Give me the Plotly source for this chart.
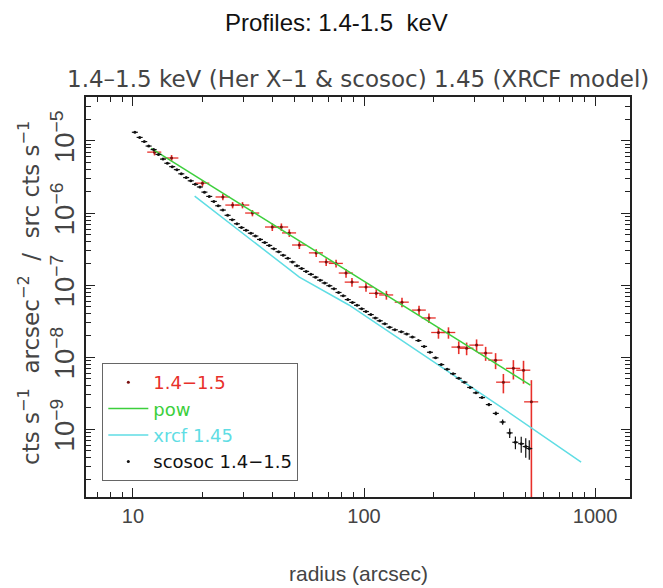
import plotly.graph_objects as go

# ---------------- data ----------------
# red data: 1.4-1.5 keV profile (radius arcsec, value)
red_r = [12.4, 14.7, 20.0, 24.5, 27.0, 29.8, 32.9, 40.1, 43.9, 47.5, 52.5, 62.1,
         68.6, 75.7, 83.6, 88.7, 102, 113, 125, 146, 173, 191, 210, 232, 257,
         278, 307, 336, 371, 401, 443, 490, 530]
red_v = [7.0e-6, 5.8e-6, 2.6e-6, 1.67e-6, 1.29e-6, 1.29e-6, 1.0e-6, 6.4e-7, 6.4e-7,
         5.3e-7, 3.6e-7, 2.8e-7, 2.1e-7, 2.0e-7, 1.47e-7, 1.1e-7, 9.4e-8, 7.7e-8,
         7.3e-8, 5.8e-8, 4.5e-8, 3.5e-8, 2.2e-8, 2.2e-8, 1.38e-8, 1.33e-8, 1.47e-8,
         1.14e-8, 9.1e-9, 4.5e-9, 7.0e-9, 6.6e-9, 2.4e-9]
# fractional y errors (upper / lower)
red_err_hi = [0.10, 0.10, 0.10, 0.10, 0.10, 0.10, 0.10, 0.12, 0.12, 0.12, 0.12, 0.12,
              0.12, 0.12, 0.14, 0.14, 0.14, 0.14, 0.14, 0.15, 0.15, 0.15, 0.18, 0.18,
              0.20, 0.20, 0.20, 0.22, 0.25, 0.30, 0.30, 0.35, 1.00]
red_err_lo = [0.10, 0.10, 0.10, 0.10, 0.10, 0.10, 0.10, 0.12, 0.12, 0.12, 0.12, 0.12,
              0.12, 0.12, 0.14, 0.14, 0.14, 0.14, 0.14, 0.15, 0.15, 0.15, 0.18, 0.18,
              0.20, 0.20, 0.20, 0.22, 0.25, 0.30, 0.30, 0.35, 0.999]

# green power-law model (straight line in log-log)
pow_r = [12.0, 525]
pow_v = [7.9e-6, 4.1e-9]

# cyan XRCF model 1.45 keV
xrcf_r = [18.5, 31.9, 52.5, 86, 141, 232, 382, 870]
xrcf_v = [1.72e-6, 4.4e-7, 1.29e-7, 5.3e-8, 1.84e-8, 6.2e-9, 2.15e-9, 3.5e-10]

# black scosoc 1.4-1.5 profile
sc_r = [10.2, 10.7, 11.2, 11.7, 12.3, 12.9, 13.5, 14.1, 14.8, 15.5, 16.2, 17.0,
        17.8, 18.6, 19.5, 20.4, 21.4, 22.4, 23.4, 24.5, 25.7, 26.9, 28.2, 29.5,
        30.9, 32.4, 33.9, 35.5, 37.2, 38.9, 40.7, 42.7, 44.7, 46.8, 49.0, 51.3,
        53.7, 56.2, 58.9, 61.7, 64.6, 67.6, 70.8, 74.1, 77.6, 81.3, 85.1, 89.1,
        93.3, 97.7, 102, 107, 112, 117, 123, 129, 136, 145, 153, 162, 172, 182,
        193, 204, 216, 229, 243, 257, 272, 288, 305, 324, 347, 372, 398, 427,
        452, 479, 501, 519]
sc_v = [1.32e-5, 1.12e-5, 9.8e-6, 8.5e-6, 7.6e-6, 6.5e-6, 5.6e-6, 4.9e-6, 4.4e-6,
        4.0e-6, 3.5e-6, 3.1e-6, 2.8e-6, 2.5e-6, 2.3e-6, 1.95e-6, 1.7e-6, 1.45e-6,
        1.26e-6, 1.10e-6, 9.3e-7, 8.1e-7, 7.1e-7, 6.3e-7, 5.75e-7, 5.25e-7, 4.8e-7,
        4.3e-7, 3.9e-7, 3.55e-7, 3.2e-7, 2.9e-7, 2.6e-7, 2.35e-7, 2.1e-7, 1.85e-7,
        1.7e-7, 1.55e-7, 1.41e-7, 1.29e-7, 1.17e-7, 1.07e-7, 9.8e-8, 8.9e-8, 7.9e-8,
        7.1e-8, 6.3e-8, 5.75e-8, 5.25e-8, 4.7e-8, 4.3e-8, 3.9e-8, 3.5e-8, 3.2e-8,
        2.9e-8, 2.6e-8, 2.4e-8, 2.25e-8, 2.1e-8, 1.9e-8, 1.7e-8, 1.41e-8, 1.17e-8,
        9.8e-9, 7.9e-9, 6.8e-9, 5.9e-9, 5.1e-9, 4.5e-9, 3.8e-9, 3.2e-9, 2.75e-9,
        2.2e-9, 1.66e-9, 1.26e-9, 8.9e-10, 6.6e-10, 6.3e-10, 5.75e-10, 5.4e-10]
sc_err = [0.02] * 72 + [0.05, 0.06, 0.08, 0.15, 0.2, 0.25, 0.3, 0.3]

# labels
title_text = "Profiles: 1.4-1.5  keV"
subtitle_text = "1.4–1.5 keV (Her X–1 & scosoc) 1.45 (XRCF model)"
x_title = "radius (arcsec)"
y_title = "cts s<sup>−1</sup>  arcsec<sup>−2</sup>  /  src cts s<sup>−1</sup>"
name_red = "1.4−1.5"
name_pow = "pow"
name_xrcf = "xrcf 1.45"
name_sc = "scosoc 1.4−1.5"

RED = "#e8302a"
GREEN = "#3ccf3c"
CYAN = "#5fdde4"
BLACK = "#111111"
FONT = "Liberation Sans, Arial, sans-serif"
WIDE = "DejaVu Sans, sans-serif"
TXT = "#444"

fig = go.Figure()

fig.add_trace(go.Scatter(
    x=red_r, y=red_v, mode="markers",
    name=f"<span style='color:{RED}'>{name_red}</span>",
    marker=dict(size=3, color="#7a1010"),
    error_x=dict(type="percent", value=7, color=RED, thickness=1.3, width=0),
    error_y=dict(type="data", symmetric=False,
                 array=[v * e for v, e in zip(red_v, red_err_hi)],
                 arrayminus=[v * e for v, e in zip(red_v, red_err_lo)],
                 color=RED, thickness=1.6, width=0),
))
fig.add_trace(go.Scatter(
    x=pow_r, y=pow_v, mode="lines",
    name=f"<span style='color:{GREEN}'>{name_pow}</span>",
    line=dict(color=GREEN, width=1.5),
))
fig.add_trace(go.Scatter(
    x=xrcf_r, y=xrcf_v, mode="lines",
    name=f"<span style='color:{CYAN}'>{name_xrcf}</span>",
    line=dict(color=CYAN, width=1.5),
))
fig.add_trace(go.Scatter(
    x=sc_r, y=sc_v, mode="markers",
    name=f"<span style='color:{BLACK}'>{name_sc}</span>",
    marker=dict(size=3, color=BLACK),
    error_x=dict(type="percent", value=3, color=BLACK, thickness=1.2, width=0),
    error_y=dict(type="data", array=[v * e for v, e in zip(sc_v, sc_err)],
                 color=BLACK, thickness=1.2, width=0),
))

axis_common = dict(
    type="log", showgrid=False, zeroline=False, showline=True,
    linecolor="#222", linewidth=1.5, mirror="allticks",
    ticks="inside", ticklen=9, tickwidth=1.2, tickcolor="#222",
    minor=dict(ticks="inside", ticklen=5, tickcolor="#222", tickwidth=1, showgrid=False),
    tickfont=dict(family=FONT, size=20, color=TXT),
)

fig.update_xaxes(axis_common, range=[0.797, 3.151], dtick=1, exponentformat="none")
fig.update_yaxes(axis_common, range=[-9.94, -4.39], dtick=1, exponentformat="power",
                 showexponent="all", tickangle=-90,
                 tickfont=dict(family=FONT, size=22, color=TXT))

fig.add_annotation(text=title_text, xref="paper", yref="paper", x=0.46, y=1.1875,
                   xanchor="center", yanchor="middle", showarrow=False,
                   font=dict(family=FONT, size=24, color="#111"))
fig.add_annotation(text=subtitle_text, xref="paper", yref="paper", x=0.5, y=1.045,
                   xanchor="center", yanchor="middle", showarrow=False,
                   font=dict(family=WIDE, size=23, color=TXT))
fig.add_annotation(text=y_title, xref="paper", yref="paper", x=-0.105, y=0.51,
                   xanchor="center", yanchor="middle", textangle=-90, showarrow=False,
                   font=dict(family=WIDE, size=23, color=TXT))
fig.add_annotation(text=x_title, xref="paper", yref="paper", x=0.5, y=-0.19,
                   xanchor="center", yanchor="middle", showarrow=False,
                   font=dict(family=FONT, size=21, color=TXT))

fig.update_layout(
    width=663, height=588,
    margin=dict(l=86, r=33, t=97, b=91),
    paper_bgcolor="white", plot_bgcolor="white",
    font=dict(family=FONT, color="#333"),
    showlegend=True,
    legend=dict(x=0.03, y=0.335, xanchor="left", yanchor="top",
                bgcolor="white", bordercolor="#666", borderwidth=1,
                font=dict(family=WIDE, size=18), tracegroupgap=0,
                itemwidth=40),
)

fig.write_html("out.html")
